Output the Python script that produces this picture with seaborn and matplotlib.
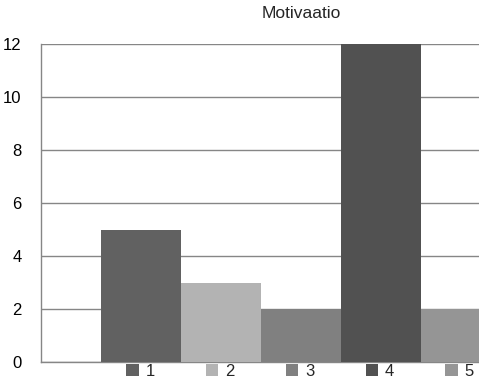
import pandas as pd
import matplotlib
matplotlib.use("Agg")
import matplotlib.pyplot as plt
import seaborn as sns

# ----------------------------------------------------------------
# DATA
# ----------------------------------------------------------------
title = "Motivaatio"
answers = ["1", "2", "3", "4", "5"]
counts = [5, 3, 2, 12, 2]
bar_colors = ["#616161", "#b3b3b3", "#808080", "#515151", "#959595"]
y_ticks = [0, 2, 4, 6, 8, 10, 12]

df = pd.DataFrame({"ryhma": [title] * len(answers), "vastaus": answers, "lkm": counts})

# ----------------------------------------------------------------
# SETUP
# ----------------------------------------------------------------
sns.set_style("white")
plt.rcParams['font.family'] = ['Liberation Sans', 'DejaVu Sans']
GRID = "#868686"

W, H = 479, 379
fig = plt.figure(figsize=(W / 100, H / 100), dpi=100)
# axes run past the right edge of the picture (the original is cropped)
left_px, right_px, top_px, zero_px = 41, 561, 44, 362
ax = fig.add_axes([left_px / W, 1 - zero_px / H,
                   (right_px - left_px) / W, (zero_px - top_px) / H])

sns.barplot(data=df, x="ryhma", y="lkm", hue="vastaus", palette=bar_colors,
            width=0.8, saturation=1, dodge=True, linewidth=0, ax=ax, zorder=3)

handles, labels = ax.get_legend_handles_labels()
ax.get_legend().remove()

ax.set_xlim(-0.52, 0.52)
ax.set_ylim(0, 12)
ax.set_yticks(y_ticks)
ax.set_xticks([-0.52])
ax.set_xticklabels([""])
ax.set_xlabel("")
ax.set_ylabel("")
ax.yaxis.grid(True, color=GRID, linewidth=1, zorder=0)
ax.set_axisbelow(True)
for s in ["top", "right"]:
    ax.spines[s].set_visible(False)
for s in ["left", "bottom"]:
    ax.spines[s].set_color(GRID)
    ax.spines[s].set_linewidth(1)
ax.tick_params(axis="y", length=5, width=1, color=GRID, pad=9, labelsize=12, labelcolor="black")
ax.tick_params(axis="x", length=3, width=1, color=GRID, direction="out")

fig.text(301 / W, 1 - 13 / H, title, ha="center", va="center", fontsize=12.5)

fig.legend(handles, labels, loc="center", bbox_to_anchor=(300 / W, 1 - 371 / H),
           ncol=5, frameon=False, fontsize=12, handlelength=0.75, handleheight=0.75,
           handletextpad=0.4, columnspacing=3.08, borderpad=0, borderaxespad=0)

fig.savefig("out.png", dpi=100)
